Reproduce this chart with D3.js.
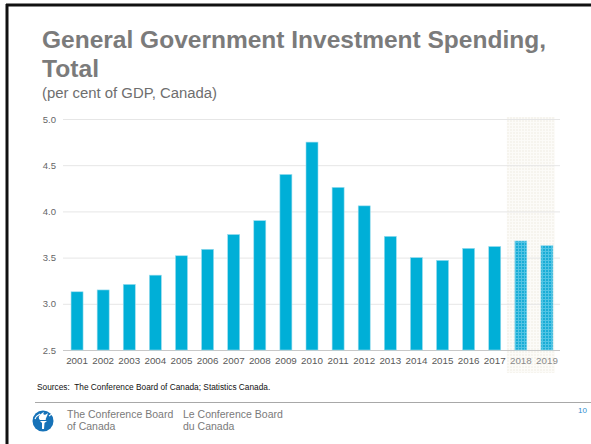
<!DOCTYPE html>
<html>
<head>
<meta charset="utf-8">
<script src="https://cdn.jsdelivr.net/npm/d3@7"></script>
<style>
  html, body { margin: 0; padding: 0; background: #fff; }
  svg { display: block; font-family: "Liberation Sans", Arial, sans-serif; }
</style>
</head>
<body>
<svg id="chart" width="591" height="444"></svg>
<script>
// Investment spending as per cent of GDP, Canada
const years = ["2001","2002","2003","2004","2005","2006","2007","2008","2009","2010",
               "2011","2012","2013","2014","2015","2016","2017","2018","2019"];
const values = [3.13, 3.15, 3.21, 3.31, 3.52, 3.59, 3.75, 3.90, 4.40, 4.75,
                4.26, 4.06, 3.73, 3.50, 3.47, 3.60, 3.62, 3.68, 3.63];
const forecastYears = ["2018", "2019"];
const yTicks = [2.5, 3.0, 3.5, 4.0, 4.5, 5.0];

const svg = d3.select("#chart");

// patterns: checkered fill for forecast bars and the forecast background
const defs = svg.append("defs");
const pb = defs.append("pattern").attr("id", "fcBar")
  .attr("width", 3).attr("height", 3).attr("patternUnits", "userSpaceOnUse");
pb.append("rect").attr("width", 3).attr("height", 3).attr("fill", "#52c4e4");
pb.append("rect").attr("width", 2).attr("height", 2).attr("fill", "#1aadd6");
const pg = defs.append("pattern").attr("id", "fcBg")
  .attr("width", 3).attr("height", 3).attr("patternUnits", "userSpaceOnUse");
pg.append("rect").attr("width", 3).attr("height", 3).attr("fill", "#fcfbf8");
pg.append("rect").attr("width", 2).attr("height", 2).attr("fill", "#f6f4ee");

// slide frame
svg.append("line").attr("x1", 7).attr("x2", 7).attr("y1", 4).attr("y2", 444)
  .attr("stroke", "#111").attr("stroke-width", 3);
svg.append("line").attr("x1", 6).attr("x2", 591).attr("y1", 5).attr("y2", 5)
  .attr("stroke", "#111").attr("stroke-width", 3);

// titles
svg.append("text").attr("x", 42).attr("y", 48)
  .attr("font-size", 24).attr("font-weight", "bold").attr("fill", "#7b7b7b")
  .attr("textLength", 504).attr("lengthAdjust", "spacingAndGlyphs")
  .text("General Government Investment Spending,");
svg.append("text").attr("x", 42).attr("y", 77)
  .attr("font-size", 24).attr("font-weight", "bold").attr("fill", "#7b7b7b")
  .attr("textLength", 57).attr("lengthAdjust", "spacingAndGlyphs")
  .text("Total");
svg.append("text").attr("x", 42).attr("y", 98)
  .attr("font-size", 14).attr("fill", "#6e6e6e")
  .attr("textLength", 175).attr("lengthAdjust", "spacingAndGlyphs")
  .text("(per cent of GDP, Canada)");

// scales
const x = d3.scaleBand().domain(years).range([64, 560])
  .paddingInner(0.54).paddingOuter(0.27);
const y = d3.scaleLinear().domain([2.5, 5.0]).range([350, 119]);

// forecast background band
const fx0 = x(forecastYears[0]) - x.step() * x.paddingInner() / 2 - 1;
const fx1 = x(forecastYears[forecastYears.length - 1]) + x.bandwidth() + x.step() * x.paddingInner() / 2 - 5;
svg.append("rect").attr("x", fx0).attr("y", y(5.0) - 2)
  .attr("width", fx1 - fx0).attr("height", 373 - (y(5.0) - 2))
  .attr("fill", "url(#fcBg)");

// gridlines
svg.append("g").selectAll("line").data(yTicks).join("line")
  .attr("x1", 63).attr("x2", 560)
  .attr("y1", d => y(d) + 0.5).attr("y2", d => y(d) + 0.5)
  .attr("stroke", d => d === 2.5 ? "#c8c8c8" : "#e6e6e6").attr("stroke-width", 1);

// y axis labels
const yAxis = d3.axisLeft(y).tickValues(yTicks).tickFormat(d3.format(".1f")).tickSize(0).tickPadding(0);
const gy = svg.append("g").attr("transform", "translate(56,0)").call(yAxis);
gy.select(".domain").remove();
gy.selectAll("text").attr("font-size", 9.5).attr("fill", "#666")
  .attr("font-family", "'Liberation Sans', Arial, sans-serif");

// bars
svg.append("g").selectAll("rect").data(years).join("rect")
  .attr("x", d => x(d))
  .attr("y", (d, i) => y(values[i]))
  .attr("width", x.bandwidth())
  .attr("height", (d, i) => y(2.5) - y(values[i]))
  .attr("fill", d => forecastYears.includes(d) ? "url(#fcBar)" : "#00afd7")
  .attr("stroke", "#9adcee").attr("stroke-width", 0.6);

// x axis labels
const xAxis = d3.axisBottom(x).tickSize(0).tickPadding(0);
const gx = svg.append("g").attr("transform", "translate(0,357)").call(xAxis);
gx.select(".domain").remove();
gx.selectAll("text").attr("font-size", 9.8)
  .attr("fill", d => forecastYears.includes(d) ? "#8a8a8a" : "#595959")
  .attr("font-family", "'Liberation Sans', Arial, sans-serif");

// source note
svg.append("text").attr("x", 37).attr("y", 390)
  .attr("font-size", 8.3).attr("fill", "#111")
  .text("Sources:\u00a0 The Conference Board of Canada; Statistics Canada.");

// footer rule
svg.append("line").attr("x1", 35).attr("x2", 591).attr("y1", 402.5).attr("y2", 402.5)
  .attr("stroke", "#a8a8a8").attr("stroke-width", 1);

// logo: blue disc with white torch
const logo = svg.append("g").attr("transform", "translate(43,421)");
logo.append("circle").attr("r", 10.5).attr("fill", "#1672b8");
logo.append("path")
  .attr("d", "M-1,8 L1,8 L1.5,2 L4,0 L-3,0 L-1,2 Z")
  .attr("fill", "#fff");
logo.append("path")
  .attr("d", "M-3,-1 C-6,-4 -3,-7 1,-9 C-1,-6 2,-5 5,-8 C4,-4 2,-2 3,-1 Z")
  .attr("fill", "#fff");
logo.append("path")
  .attr("d", "M-8,-2 C-7,-5 -5,-6 -3,-7 M6,-5 C8,-6 8,-7 9,-7")
  .attr("stroke", "#fff").attr("stroke-width", 1.2).attr("fill", "none");

const ft = svg.append("g").attr("font-size", 10.5).attr("fill", "#7a7a7a");
ft.append("text").attr("x", 67).attr("y", 418).text("The Conference Board");
ft.append("text").attr("x", 67).attr("y", 430).text("of Canada");
ft.append("text").attr("x", 183).attr("y", 418).text("Le Conference Board");
ft.append("text").attr("x", 183).attr("y", 430).text("du Canada");

svg.append("text").attr("x", 587).attr("y", 413).attr("text-anchor", "end")
  .attr("font-size", 8).attr("fill", "#2f8fd0").text("10");
</script>
</body>
</html>
